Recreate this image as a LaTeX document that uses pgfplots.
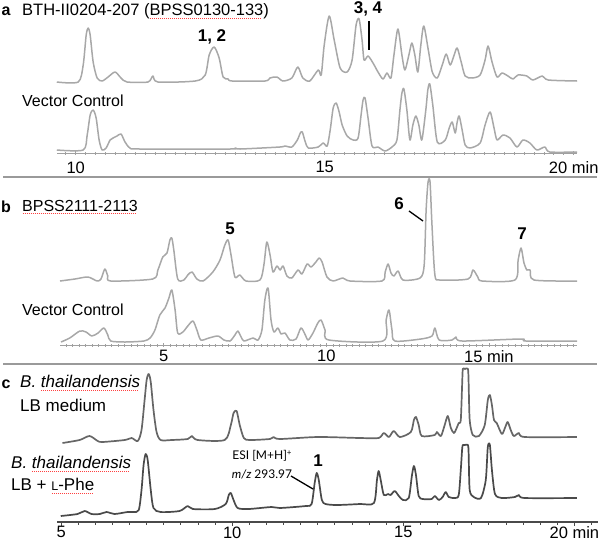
\documentclass[border=0pt]{standalone}
\usepackage{pgfplots}
\pgfplotsset{compat=1.18}
\usepackage{fontspec}
\setmainfont{Liberation Sans}
\newfontfamily\lato{Lato}
\definecolor{trace}{HTML}{A8A8A8}
\definecolor{ruler}{HTML}{A0A0A0}
\definecolor{sepc}{HTML}{9A9A9A}
\definecolor{darktr}{HTML}{4A4A4A}
\definecolor{midtr}{HTML}{666666}
\newcommand\fs[1]{\fontsize{#1}{#1}\selectfont}
\newcommand\spell[1]{\setbox0\hbox{#1}\rlap{\raisebox{-3pt}{\textcolor{red!75}{\leaders\hbox to 2pt{\hss\rule{1pt}{0.6pt}\hss}\hskip\wd0}}}\box0}
\pgfplotsset{
  chrom/.style={scale only axis, anchor=south west, clip=false,
    axis y line=none, axis x line*=bottom,
    /pgf/number format/assume math mode=true,
    tick label style={font=\fs{16.5}},
    every axis plot/.append style={line join=round, smooth, tension=0.45, mark=none}},
}
\begin{document}
\begin{tikzpicture}
\useasboundingbox (0,0) rectangle (600pt,-542pt);
\draw[sepc, line width=1.2pt] (3pt,-177pt) -- (597pt,-177pt);
\draw[sepc, line width=1.2pt] (3pt,-364pt) -- (597pt,-364pt);

% ---------------- panel a
\begin{axis}[chrom, at={(57pt,-153pt)}, width=520pt, height=153pt,
  xmin=9.624, xmax=20.066, ymin=0, ymax=153,
  x axis line style={ruler, line width=1pt},
  xtick={10,15,20}, xticklabels={10,15,20 min},
  minor xtick={9.8,10,...,20},
  tick align=center, major tick length=4pt, minor tick length=3pt,
  tick style={ruler, line width=0.6pt},
  xticklabel style={yshift=-3pt}]
\addplot[trace, line width=1.5pt] coordinates {
(9.62,71)(10.05,71)(10.15,88)(10.21,118)(10.25,125)(10.29,118)(10.35,91)(10.43,75)(10.53,72)
(10.65,76)(10.79,81)(10.91,75)(11.03,71)(11.45,71)(11.55,77)(11.65,71)(12.40,72)(12.60,78)
(12.68,98)(12.78,106)(12.88,95)(12.96,76)(13.06,74)(13.14,72)(13.80,72)(13.90,75)(14.04,76)
(14.16,72)(14.34,75)(14.46,86)(14.56,75)(14.70,72)(14.87,83)(14.93,78)(14.99,108)(15.09,137)
(15.19,113)(15.31,85)(15.45,81)(15.55,93)(15.63,128)(15.69,134)(15.75,113)(15.79,93)(15.87,97)
(15.97,90)(16.07,81)(16.17,74)(16.25,80)(16.33,75)(16.39,98)(16.47,124)(16.55,98)(16.61,83)
(16.69,98)(16.75,110)(16.81,98)(16.87,81)(16.93,108)(16.99,127)(17.08,103)(17.16,81)(17.26,75)
(17.36,88)(17.44,99)(17.52,88)(17.60,98)(17.66,105)(17.74,91)(17.82,77)(17.96,75)(18.12,78)
(18.22,93)(18.28,107)(18.36,91)(18.46,76)(18.56,80)(18.68,77)(18.78,74)(18.88,78)(19.06,77)
(19.18,73)(19.37,77)(19.49,73)(20.07,72)};
\addplot[trace, line width=1.5pt] coordinates {
(9.62,3)(10.15,3)(10.23,18)(10.29,38)(10.35,43)(10.41,35)(10.47,13)(10.53,3)(10.61,5)(10.69,13)
(10.75,15)(10.83,17)(10.91,19)(10.99,11)(11.09,5)(11.29,4)(13.10,4)(13.20,5)(13.30,4)(14.10,6)
(14.20,7)(14.34,6)(14.45,13)(14.51,20)(14.55,21)(14.61,11)(14.67,5)(14.87,6)(14.97,10)(15.05,7)
(15.11,23)(15.17,45)(15.23,50)(15.29,41)(15.35,28)(15.45,17)(15.57,13)(15.67,15)(15.73,38)
(15.77,53)(15.81,55)(15.87,35)(15.95,7)(16.07,6)(16.21,2)(16.35,6)(16.45,13)(16.51,43)(16.55,60)
(16.59,64)(16.65,43)(16.71,13)(16.77,28)(16.83,37)(16.89,28)(16.95,13)(17.03,43)(17.07,63)
(17.11,69)(17.17,48)(17.26,11)(17.42,13)(17.50,25)(17.56,31)(17.62,20)(17.66,31)(17.70,37)
(17.76,23)(17.82,8)(17.92,5)(18.12,10)(18.22,28)(18.32,41)(18.40,25)(18.46,13)(18.58,18)
(18.72,15)(18.86,6)(18.98,13)(19.12,10)(19.26,3)(19.42,6)(19.52,1)(20.07,1)};
\end{axis}

% ---------------- panel b
\begin{axis}[chrom, at={(60pt,-345pt)}, width=517pt, height=165pt,
  xmin=1.81, xmax=17.71, ymin=0, ymax=165,
  x axis line style={ruler, line width=1pt},
  xtick={5,10,15}, xticklabels={5,10,15 min},
  minor xtick={2,2.2,...,17.6},
  tick align=center, major tick length=3.5pt, minor tick length=3pt,
  tick style={ruler, line width=0.6pt}]
\addplot[trace, line width=1.5pt] coordinates {
(1.81,64)(2.27,66)(2.67,68)(2.95,64)(3.07,66)(3.19,76)(3.28,69)(3.37,64)(4.66,66)(4.82,75)
(4.97,88)(5.10,92)(5.19,105)(5.25,107)(5.31,95)(5.43,66)(5.62,65)(5.74,70)(5.87,73)(6.02,66)
(6.21,64)(6.51,73)(6.73,85)(6.88,100)(6.98,105)(7.07,90)(7.19,68)(7.34,70)(7.53,64)(7.96,65)
(8.08,80)(8.17,103)(8.27,90)(8.36,73)(8.48,79)(8.58,75)(8.67,79)(8.79,69)(8.94,67)(9.13,75)
(9.25,71)(9.41,81)(9.53,78)(9.68,83)(9.78,87)(9.87,83)(10.02,68)(10.21,64)(10.51,67)(10.73,64)
(11.71,64)(11.81,73)(11.90,81)(11.99,72)(12.08,69)(12.21,74)(12.36,65)(12.88,67)(13.01,80)
(13.07,135)(13.13,163)(13.19,163)(13.25,120)(13.34,70)(13.50,65)(14.36,66)(14.51,75)(14.66,68)
(14.79,64)(15.80,65)(15.90,85)(15.99,97)(16.08,82)(16.17,75)(16.27,75)(16.39,65)(17.71,64)};
\addplot[trace, line width=1.5pt] coordinates {
(1.84,3)(2.11,7)(2.42,14)(2.61,13)(2.79,9)(2.98,12)(3.16,17)(3.28,10)(3.37,4)(3.81,3)(4.39,4)
(4.58,7)(4.73,15)(4.88,30)(5.04,37)(5.16,47)(5.25,55)(5.35,35)(5.43,12)(5.59,13)(5.74,19)
(5.90,24)(6.02,15)(6.14,5)(6.39,7)(6.67,9)(6.85,5)(7.04,4)(7.19,10)(7.28,14)(7.38,8)(7.47,4)
(7.75,7)(7.90,5)(8.02,15)(8.11,45)(8.21,57)(8.30,25)(8.39,13)(8.51,17)(8.61,11)(8.73,12)
(8.88,5)(9.07,6)(9.22,17)(9.34,11)(9.44,5)(9.59,12)(9.74,22)(9.84,25)(9.96,15)(10.08,5)
(11.74,4)(11.84,25)(11.93,35)(12.02,15)(12.11,4)(12.91,6)(13.25,9)(13.34,17)(13.47,5)(13.87,5)
(13.99,8)(14.18,4)(15.99,6)(16.14,4)(17.71,4)};
\end{axis}

% ---------------- panel c
\begin{axis}[chrom, at={(57pt,-522pt)}, width=541pt, height=158pt,
  xmin=4.88, xmax=20.69, ymin=0, ymax=158,
  x axis line style={darktr, line width=1.1pt},
  xtick={5,10,15,20}, xticklabels={5,10,15,20 min},
  minor xtick={5.5,6,...,20.5},
  tick align=outside, major tick length=4pt, minor tick length=2.5pt,
  tick style={darktr, line width=0.8pt},
  tick label style={font=\fs{16.5}},
  xticklabel style={yshift=3pt}]
\addplot[midtr, line width=1.7pt] coordinates {
(5.04,79)(5.54,82)(5.83,86)(6.07,81)(6.21,80)(6.86,82)(7.06,84)(7.24,81)(7.35,92)(7.44,122)
(7.50,142)(7.56,148)(7.62,140)(7.70,112)(7.79,90)(7.91,82)(8.23,82)(8.70,83)(8.82,86)(8.99,82)
(9.78,82)(9.96,97)(10.04,109)(10.13,111)(10.22,97)(10.34,84)(10.51,82)(11.10,83)(11.21,85)
(11.39,83)(12.50,85)(13.73,84)(14.28,84)(14.43,89)(14.58,85)(14.72,91)(14.90,85)(15.22,90)
(15.31,102)(15.37,105)(15.45,97)(15.54,86)(15.92,87)(15.98,90)(16.10,86)(16.21,97)(16.30,106)
(16.39,94)(16.48,89)(16.56,94)(16.62,99)(16.68,102)(16.72,138)(16.74,153)(16.80,153)(16.89,153)
(16.91,138)(16.94,102)(17.03,87)
(17.21,86)(17.38,97)(17.47,122)(17.53,127)(17.59,117)(17.65,102)(17.73,99)(17.88,88)(17.97,94)
(18.05,100)(18.14,92)(18.23,86)(18.38,89)(18.55,85)(20.07,85)};
\addplot[darktr, line width=1.7pt] coordinates {
(4.99,6)(5.48,8)(5.69,11)(5.89,8)(6.13,8)(6.33,10)(6.56,8)(6.94,10)(7.12,10)(7.27,12)
(7.35,32)(7.41,57)(7.47,68)(7.53,62)(7.62,32)(7.70,14)(7.91,10)(8.46,11)(8.70,16)(8.85,13)
(9.49,13)(9.81,18)(9.90,27)(9.96,29)(10.04,22)(10.16,14)(10.48,13)(11.15,15)(11.39,14)(12.15,16)
(12.32,18)(12.41,39)(12.47,49)(12.53,42)(12.62,22)(12.73,18)(13.06,17)(13.73,18)(14.14,19)
(14.23,42)(14.28,51)(14.34,42)(14.43,27)(14.55,28)(14.63,27)(14.75,31)(14.87,26)(14.99,22)
(15.16,24)(15.25,46)(15.31,56)(15.37,47)(15.45,26)(15.57,23)(15.83,23)(15.92,26)(16.04,22)
(16.15,25)(16.24,30)(16.33,25)(16.51,24)(16.62,27)(16.68,52)(16.72,73)(16.74,77)(16.80,77)
(16.89,77)(16.91,68)(16.94,32)
(17.06,25)(17.27,24)(17.41,42)(17.47,75)(17.53,77)(17.59,52)(17.68,28)(17.88,24)(18.26,25)
(18.38,27)(18.55,24)(20.07,24)};
\end{axis}

% ---------------- texts
\node[anchor=center, inner sep=0] at (6pt,-11pt) {\fs{16}\bfseries a};
\node[anchor=west, inner sep=0] at (22pt,-11pt) {\fs{16.5}BTH-II0204-207 (\spell{BPSS0130-133})};
\node[inner sep=0] at (212pt,-37pt) {\fs{17}\bfseries 1, 2};
\node[inner sep=0] at (368pt,-9pt) {\fs{17}\bfseries 3, 4};
\draw[black, line width=1.5pt] (369pt,-21pt) -- (369pt,-50pt);
\node[anchor=west, inner sep=0] at (22pt,-101pt) {\fs{16}Vector Control};

\node[anchor=center, inner sep=0] at (6pt,-207pt) {\fs{16}\bfseries b};
\node[anchor=west, inner sep=0] at (22pt,-207pt) {\fs{16}\spell{BPSS2111-2113}};
\node[inner sep=0] at (230pt,-229pt) {\fs{17}\bfseries 5};
\node[inner sep=0] at (399pt,-204pt) {\fs{17}\bfseries 6};
\draw[black, line width=1.3pt] (409pt,-211pt) -- (423pt,-221pt);
\node[inner sep=0] at (522pt,-234pt) {\fs{17}\bfseries 7};
\node[anchor=west, inner sep=0] at (22pt,-310pt) {\fs{16}Vector Control};

\node[anchor=center, inner sep=0] at (6pt,-384pt) {\fs{16}\bfseries c};
\node[anchor=west, inner sep=0] at (20pt,-383pt) {\fs{17}\textit{B. \spell{thailandensis}}};
\node[anchor=west, inner sep=0] at (20pt,-405pt) {\fs{17}LB medium};
\node[anchor=west, inner sep=0] at (11pt,-464pt) {\fs{17}\textit{B. \spell{thailandensis}}};
\node[anchor=west, inner sep=0] at (11pt,-486pt) {\fs{17}LB + \spell{{\fs{12.5}L}-Phe}};
\node[inner sep=0] at (318pt,-461pt) {\fs{17}\bfseries 1};
\node[inner sep=0] at (262pt,-456pt) {\lato\fs{12}ESI [M+H]\raisebox{4pt}{\fs{8}+}};
\node[inner sep=0] at (262pt,-474pt) {\lato\fs{12}\textit{m/z} 293.97};
\draw[black, line width=1.3pt] (291pt,-476pt) -- (313pt,-489pt);
\end{tikzpicture}
\end{document}
